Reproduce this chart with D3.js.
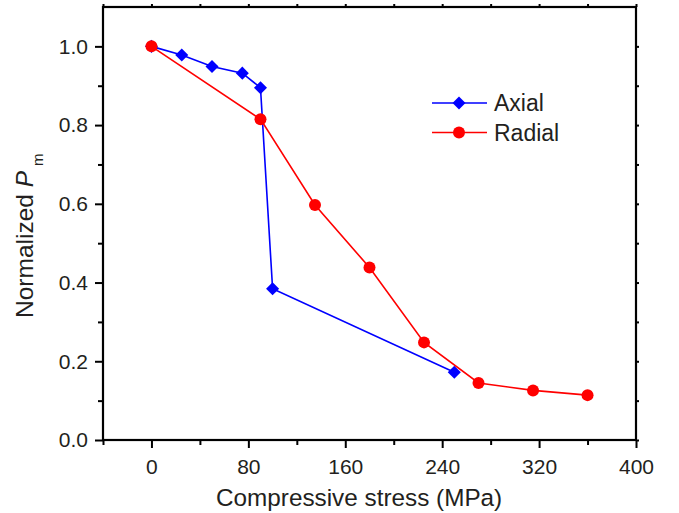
<!DOCTYPE html>
<html><head><meta charset="utf-8">
<script src="https://cdn.jsdelivr.net/npm/d3@7"></script>
<style>body{margin:0;background:#fff}svg{display:block}text{font-family:"Liberation Sans",Arial,sans-serif;fill:#231f20}</style>
</head><body>
<svg id="c" width="679" height="513"></svg>
<script>
const axialX = [0, 25, 50, 75, 90, 100, 250];
const axialY = [1.0, 0.978, 0.949, 0.932, 0.895, 0.384, 0.172];
const radialX = [0, 90, 135, 180, 225, 270, 315, 360];
const radialY = [1.0, 0.815, 0.597, 0.438, 0.248, 0.145, 0.126, 0.114];
const xTicks = [0, 80, 160, 240, 320, 400];
const yTicks = [0.0, 0.2, 0.4, 0.6, 0.8, 1.0];
const xMinor = [-40, 40, 120, 200, 280, 360];
const yMinor = [0.1, 0.3, 0.5, 0.7, 0.9];

const svg = d3.select("#c");
const L = 103, R = 636, T = 7, B = 440;
const x = d3.scaleLinear().domain([-40, 400]).range([L, R]);
const y = d3.scaleLinear().domain([0, 1.1]).range([B, T]);

// frame
svg.append("rect").attr("x", L).attr("y", T).attr("width", R - L).attr("height", B - T)
  .attr("fill", "none").attr("stroke", "#000").attr("stroke-width", 2.2);

// bottom axis
const gx = svg.append("g").attr("transform", `translate(0,${B})`);
gx.call(d3.axisBottom(x).tickValues(xTicks).tickSize(8).tickSizeOuter(0).tickPadding(11).tickFormat(d3.format("d")));
gx.append("g").call(d3.axisBottom(x).tickValues(xMinor).tickSize(5).tickFormat(""));
// left axis
const gy = svg.append("g").attr("transform", `translate(${L},0)`);
gy.call(d3.axisLeft(y).tickValues(yTicks).tickSize(8).tickSizeOuter(0).tickPadding(7).tickFormat(d3.format(".1f")));
gy.append("g").call(d3.axisLeft(y).tickValues(yMinor).tickSize(5).tickFormat(""));
// top & right small ticks
svg.append("g").attr("transform", `translate(0,${T})`)
  .call(d3.axisTop(x).tickValues(xTicks.concat(xMinor)).tickSize(3).tickFormat(""));
svg.append("g").attr("transform", `translate(${R},0)`)
  .call(d3.axisRight(y).tickValues(yTicks.concat(yMinor)).tickSize(3).tickFormat(""));
svg.selectAll(".domain").remove();
svg.selectAll(".tick line").attr("stroke", "#000").attr("stroke-width", 2);
gx.selectAll("text").attr("font-size", 21).style("fill", "#231f20");
gy.selectAll("text").attr("font-size", 21).style("fill", "#231f20");

// axis titles
svg.append("text").attr("x", 216).attr("y", 506).attr("text-anchor", "start")
  .attr("font-size", 24.3).text("Compressive stress (MPa)");
const yt = svg.append("text").attr("transform", `translate(33,318) rotate(-90)`)
  .attr("text-anchor", "start").attr("font-size", 24.5);
yt.append("tspan").text("Normalized ");
yt.append("tspan").attr("font-style", "italic").text("P");
yt.append("tspan").attr("font-size", 15).attr("dy", 10).attr("dx", 5).text("m");

// series
const axial = axialX.map((d, i) => [d, axialY[i]]);
const radial = radialX.map((d, i) => [d, radialY[i]]);
const line = d3.line().x(d => x(d[0])).y(d => y(d[1]));
svg.append("path").datum(axial).attr("d", line).attr("fill", "none").attr("stroke", "#0000ff").attr("stroke-width", 1.6);
svg.selectAll(".ax").data(axial).enter().append("path")
  .attr("transform", d => `translate(${x(d[0])},${y(d[1])}) rotate(45)`)
  .attr("d", d3.symbol().type(d3.symbolSquare).size(85)).attr("fill", "#0000ff");
svg.append("path").datum(radial).attr("d", line).attr("fill", "none").attr("stroke", "#ff0000").attr("stroke-width", 1.6);
svg.selectAll(".rd").data(radial).enter().append("circle")
  .attr("cx", d => x(d[0])).attr("cy", d => y(d[1])).attr("r", 6).attr("fill", "#ff0000");

// legend
const lg = svg.append("g");
lg.append("line").attr("x1", 432).attr("x2", 487).attr("y1", 103).attr("y2", 103).attr("stroke", "#0000ff").attr("stroke-width", 1.6);
lg.append("path").attr("transform", "translate(459,103) rotate(45)").attr("d", d3.symbol().type(d3.symbolSquare).size(85)).attr("fill", "#0000ff");
lg.append("text").attr("x", 494).attr("y", 111).attr("font-size", 23).text("Axial");
lg.append("line").attr("x1", 432).attr("x2", 487).attr("y1", 132.5).attr("y2", 132.5).attr("stroke", "#ff0000").attr("stroke-width", 1.6);
lg.append("circle").attr("cx", 459).attr("cy", 132.5).attr("r", 6).attr("fill", "#ff0000");
lg.append("text").attr("x", 494).attr("y", 140.5).attr("font-size", 23).text("Radial");
</script>
</body></html>
